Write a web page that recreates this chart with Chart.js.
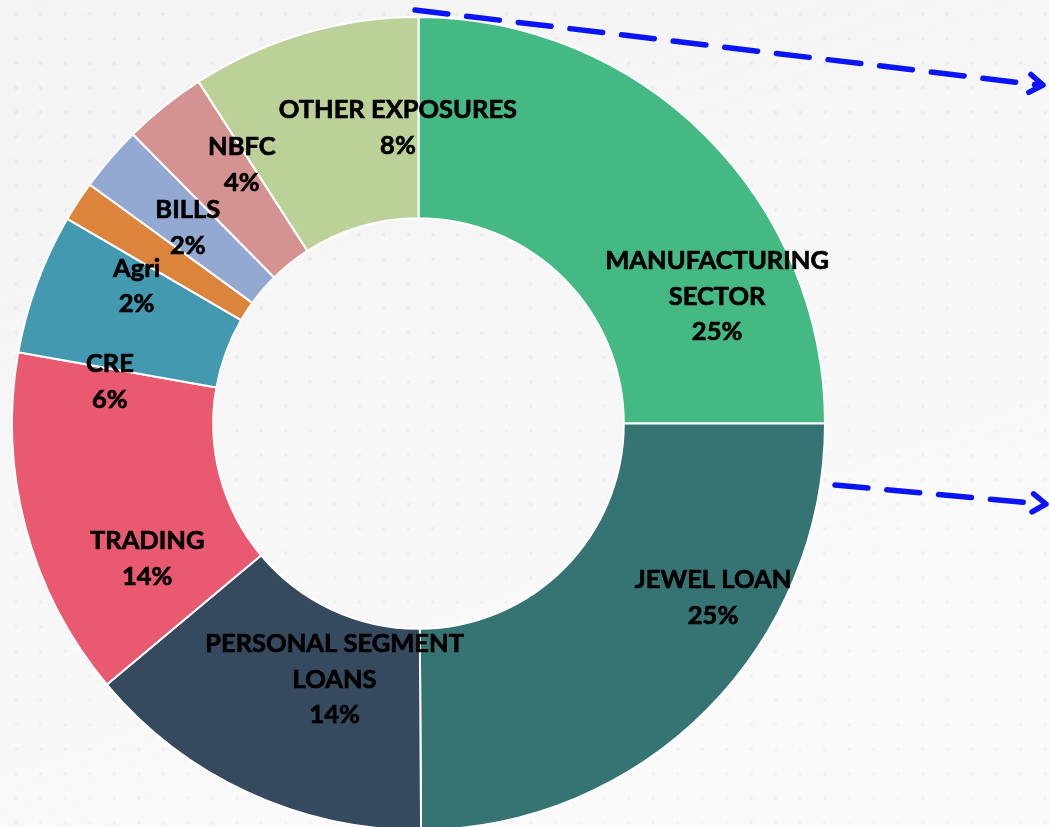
<!DOCTYPE html>
<html>
<head>
<meta charset="utf-8">
<script src="https://cdn.jsdelivr.net/npm/chart.js@4.4.0/dist/chart.umd.min.js"></script>
<style>
  html, body { margin: 0; padding: 0; width: 1049px; height: 827px; overflow: hidden; }
  body {
    background-color: #f6f6f6;
    background-image:
      linear-gradient(160deg, rgba(240,240,240,0.5) 0%, rgba(250,250,250,0.6) 60%, rgba(252,252,252,0.7) 100%),
      radial-gradient(circle, #e1e1e1 1.5px, rgba(0,0,0,0) 2.3px);
    background-size: 100% 100%, 24.5px 24.5px;
    background-position: 0 0, 4px 2px;
  }
  #wrap { position: absolute; left: 0; top: 0; width: 1049px; height: 845px; }
</style>
</head>
<body>
<div id="wrap"><canvas id="chart1"></canvas></div>
<script>
// exposure split (share of book, %)
let sectors = ['MANUFACTURING SECTOR', 'JEWEL LOAN', 'PERSONAL SEGMENT LOANS', 'TRADING', 'CRE', 'Agri', 'BILLS', 'NBFC', 'OTHER EXPOSURES'];
let shares = [25, 24.9, 14, 13.9, 5.6, 1.6, 2.6, 3.3, 9.1];
let pctLabels = ['25%', '25%', '14%', '14%', '6%', '2%', '2%', '4%', '8%'];
let sliceColors = ['#44b984', '#367474', '#354a5f', '#e95a70', '#4299b0', '#dd843c', '#93a9d1', '#d49291', '#bbd198'];

// how the label text is split onto lines
let labelLines = [['MANUFACTURING', 'SECTOR'], ['JEWEL LOAN'], ['PERSONAL SEGMENT', 'LOANS'], ['TRADING'], ['CRE'], ['Agri'], ['BILLS'], ['NBFC'], ['OTHER EXPOSURES']];
// label placement: turn from slice middle (deg) and distance as part of outer radius
let labelTurn = [22, -14.2, -6.7, -11.6, -12.5, -7.2, -0.4, 4.4, 12.4];
let labelDist = [0.798, 0.842, 0.663, 0.746, 0.766, 0.771, 0.744, 0.771, 0.729];

const sliceLabels = {
  id: 'sliceLabels',
  afterDatasetsDraw(chart) {
    const ctx = chart.ctx;
    const meta = chart.getDatasetMeta(0);
    ctx.save();
    ctx.font = 'bold 25.5px Lato';
    ctx.fillStyle = '#000000';
    ctx.strokeStyle = '#000000';
    ctx.lineWidth = 0.7;
    ctx.textAlign = 'center';
    ctx.textBaseline = 'middle';
    const lh = 35.5;
    meta.data.forEach(function(arc, i) {
      const p = arc.getProps(['x', 'y', 'startAngle', 'endAngle', 'outerRadius'], true);
      const a = (p.startAngle + p.endAngle) / 2 + labelTurn[i] * Math.PI / 180;
      const r = p.outerRadius * labelDist[i];
      const cx = p.x + Math.cos(a) * r;
      const cy = p.y + Math.sin(a) * r;
      const lines = labelLines[i].concat([pctLabels[i]]);
      const top = cy - (lines.length - 1) * lh / 2;
      lines.forEach(function(t, k) {
        ctx.fillText(t, cx, top + k * lh);
        ctx.strokeText(t, cx, top + k * lh);
      });
    });
    ctx.restore();
  }
};

// the two dashed pointer arrows on the right
const arrows = {
  id: 'arrows',
  afterDraw(chart) {
    const ctx = chart.ctx;
    function arrow(x1, y1, x2, y2) {
      ctx.save();
      ctx.strokeStyle = '#0a14f5';
      ctx.lineWidth = 5.5;
      ctx.lineCap = 'round';
      ctx.lineJoin = 'round';
      ctx.setLineDash([33, 19]);
      ctx.beginPath();
      ctx.moveTo(x1, y1);
      ctx.lineTo(x2 - 4, y2);
      ctx.stroke();
      ctx.setLineDash([]);
      const ang = Math.atan2(y2 - y1, x2 - x1);
      ctx.beginPath();
      ctx.moveTo(x2 - 16 * Math.cos(ang - 0.6), y2 - 16 * Math.sin(ang - 0.6));
      ctx.lineTo(x2, y2);
      ctx.lineTo(x2 - 16 * Math.cos(ang + 0.6), y2 - 16 * Math.sin(ang + 0.6));
      ctx.stroke();
      ctx.restore();
    }
    arrow(415, 10, 1043, 85);
    arrow(835, 485, 1046, 504);
  }
};

const data = {
  labels: sectors,
  datasets: [{
    data: shares,
    backgroundColor: sliceColors,
    borderColor: '#ffffff',
    borderWidth: 2
  }]
};

const config = {
  type: 'doughnut',
  data: data,
  options: {
    responsive: true,
    maintainAspectRatio: false,
    animation: false,
    cutout: '50.5%',
    layout: { padding: { left: 11, right: 223, top: 16, bottom: 14 } },
    plugins: {
      legend: { display: false },
      tooltip: { enabled: false }
    }
  },
  plugins: [sliceLabels, arrows]
};

const myChart = new Chart(document.getElementById('chart1'), config);
</script>
</body>
</html>
